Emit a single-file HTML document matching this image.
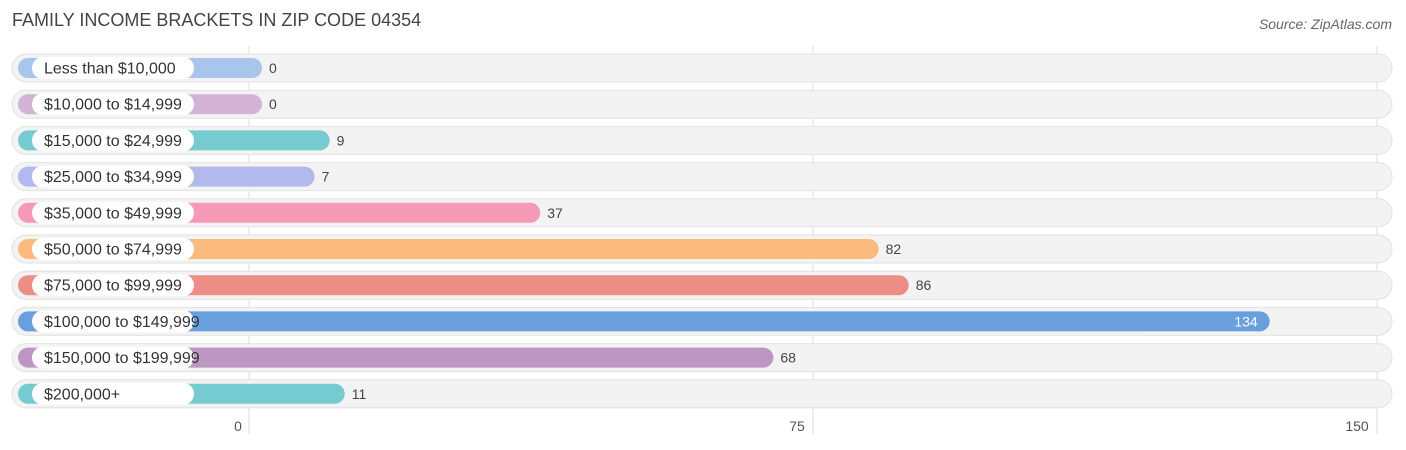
<!DOCTYPE html>
<html><head><meta charset="utf-8"><style>
body{margin:0;width:1406px;height:450px;background:#fff;font-family:"Liberation Sans",sans-serif;position:relative;overflow:hidden}
.t{position:absolute;left:12px;top:10px;font-size:18px;color:#444}
.s{position:absolute;right:14px;top:16px;font-size:14px;color:#666;font-style:italic}
</style></head><body>
<div class="t">FAMILY INCOME BRACKETS IN ZIP CODE 04354</div>
<div class="s">Source: ZipAtlas.com</div>
<svg id="c" width="1406" height="450" style="position:absolute;left:0;top:0"></svg>
<script>
const categories=["Less than $10,000","$10,000 to $14,999","$15,000 to $24,999","$25,000 to $34,999","$35,000 to $49,999","$50,000 to $74,999","$75,000 to $99,999","$100,000 to $149,999","$150,000 to $199,999","$200,000+"];
const values=[0,0,9,7,37,82,86,134,68,11];
const colors=["#a8c6ec","#d2b3d6","#76cbd0","#b2b9ec","#f699b6","#fbbb7e","#ec8d86","#6a9fdd","#bd96c4","#76cbd0"];
const ticks=[0,75,150];
const svg=document.getElementById('c');
const NS="http://www.w3.org/2000/svg";
const x=v=>249+v*7.52;
const barEnd=v=>262+v*7.52;
const y=i=>68+i*36.2;
function mk(t,a,p){const e=document.createElementNS(NS,t);for(const k in a)e.setAttribute(k,a[k]);(p||svg).appendChild(e);return e;}
ticks.forEach(t=>{
 const l=mk('line',{x1:x(t),x2:x(t),y1:46,y2:434,stroke:'#ddd','stroke-width':1});
 
 
 const tx=mk('text',{x:x(t)-(t==0?11:t==150?20:16),y:431,'font-size':14,fill:'#555','text-anchor':'middle'});
 tx.textContent=t;
 
 
});
categories.forEach((c,i)=>{
 const cy=y(i);
 const bg=mk('rect',{x:12,y:cy-14,width:1380,height:28,rx:14,fill:'#f3f3f3',stroke:'#e2e2e2'});
 
 
 const v=values[i];
 const b=mk('rect',{x:18,y:cy-10,width:barEnd(v)-18,height:20,rx:10,fill:colors[i]});
 
 
 const p=mk('rect',{x:32,y:cy-11,width:162,height:22,rx:11,fill:'#fff'});
 
 
 const lt=mk('text',{x:44,y:cy+5.5,'font-size':16,fill:'#333'});
 lt.textContent=c;
 
 
 const inside=v>120;
 const vt=mk('text',{x:inside?barEnd(v)-12:barEnd(v)+7,y:cy+5,'font-size':14,fill:inside?'#fff':'#444','text-anchor':inside?'end':'start'});
 vt.textContent=v;
 
 
});
</script>
</body></html>
